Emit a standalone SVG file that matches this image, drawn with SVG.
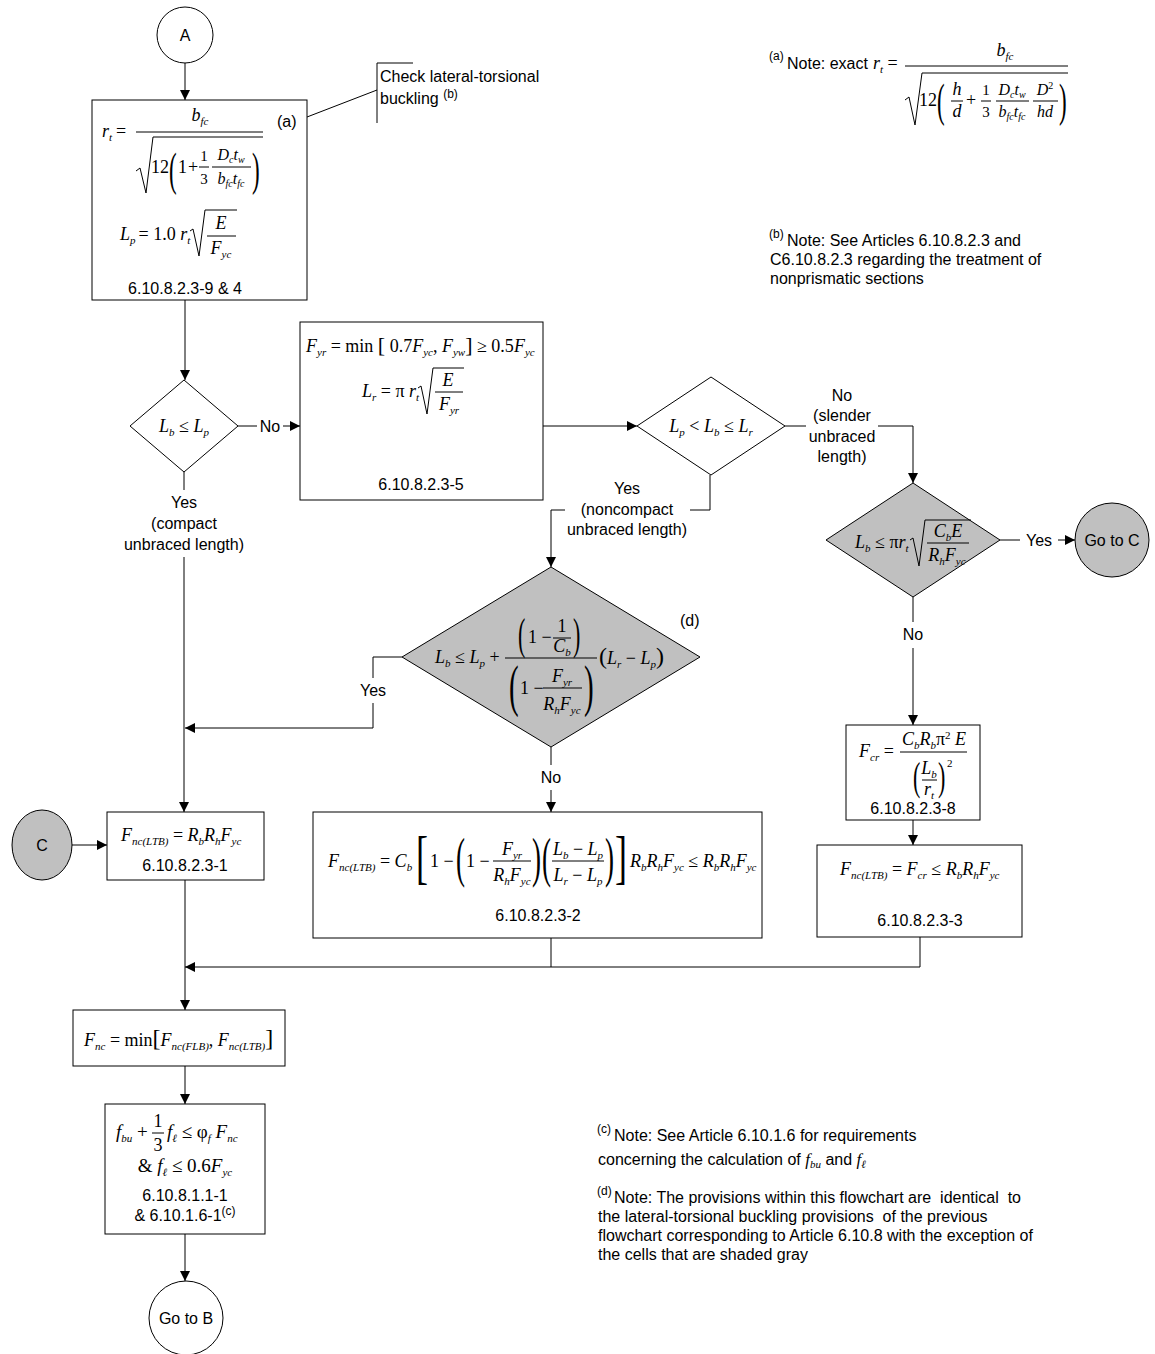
<svg xmlns="http://www.w3.org/2000/svg" width="1155" height="1354" viewBox="0 0 1155 1354">
<defs>
<marker id="ah" viewBox="0 0 10 10" refX="10" refY="5" markerWidth="10" markerHeight="10" markerUnits="userSpaceOnUse" orient="auto"><path d="M0,0 L10,5 L0,10 z" fill="#000"/></marker>
<style>
.ln{stroke:#000;stroke-width:1;fill:none}
.ar{stroke:#000;stroke-width:1;fill:none;marker-end:url(#ah)}
.bx{fill:#fff;stroke:#000;stroke-width:1}
.gr{fill:#c0c0c0;stroke:#000;stroke-width:1}
.t{font-family:"Liberation Sans",Arial,sans-serif;font-size:16px;fill:#000}
.sp{font-family:"Liberation Sans",Arial,sans-serif;font-size:12px}
.tc{text-anchor:middle}
.m{font-family:"Liberation Serif","Times New Roman",serif;font-style:italic;font-size:18px;fill:#000}
.n{font-style:normal}
.s{font-size:11px}
.ss{font-size:10px}
.f16{font-size:16px}
.f15{font-size:15px}
.big{font-size:22px}
.fb{stroke:#000;stroke-width:1;fill:none}
</style>
</defs>
<rect width="1155" height="1354" fill="#fff"/>

<g id="connectors">
<path class="ar" d="M185,63 V100"/>
<path class="ar" d="M185,300 V380"/>
<path class="ln" d="M238,426 H257"/>
<path class="ar" d="M283,426 H300"/>
<path class="ln" d="M184,472 V490"/>
<path class="ar" d="M184,557 V812"/>
<path class="ar" d="M543,426 H637"/>
<path class="ln" d="M785,426 H806"/>
<path class="ar" d="M878,426 H913 V483"/>
<path class="ln" d="M710,475 V510 H690"/>
<path class="ar" d="M565,510 H551 V567"/>
<path class="ln" d="M1000,540 H1020"/>
<path class="ar" d="M1058,540 H1075"/>
<path class="ln" d="M913,597 V622"/>
<path class="ar" d="M913,648 V725"/>
<path class="ln" d="M402,657 H373 V678"/>
<path class="ar" d="M373,703 V728 H185"/>
<path class="ln" d="M551,747 V765"/>
<path class="ar" d="M551,790 V812"/>
<path class="ar" d="M72,845 H107"/>
<path class="ar" d="M913,820 V845"/>
<path class="ar" d="M185,880 V1010"/>
<path class="ln" d="M551,938 V967"/>
<path class="ar" d="M920,937 V967 H185"/>
<path class="ar" d="M185,1066 V1104"/>
<path class="ar" d="M185,1234 V1281"/>
<path class="ln" d="M307,117 L377,90"/>
<text class="t tc" x="270" y="432">No</text>
<text class="t tc" x="184" y="508">Yes</text>
<text class="t tc" x="184" y="529">(compact</text>
<text class="t tc" x="184" y="550">unbraced length)</text>
<text class="t tc" x="842" y="401">No</text>
<text class="t tc" x="842" y="421">(slender</text>
<text class="t tc" x="842" y="442">unbraced</text>
<text class="t tc" x="842" y="462">length)</text>
<text class="t tc" x="627" y="494">Yes</text>
<text class="t tc" x="627" y="515">(noncompact</text>
<text class="t tc" x="627" y="535">unbraced length)</text>
<text class="t tc" x="1039" y="546">Yes</text>
<text class="t tc" x="913" y="640">No</text>
<text class="t tc" x="373" y="696">Yes</text>
<text class="t tc" x="551" y="783">No</text>
</g>

<g id="nodeA">
<circle cx="185" cy="35" r="28" class="bx"/>
<text class="t tc" x="185" y="41">A</text>
</g>

<g id="callout">
<path class="ln" d="M413,63 H377 V123"/>
<text class="t" x="380" y="82">Check lateral-torsional</text>
<text class="t" x="380" y="104">buckling <tspan class="sp" dy="-6">(b)</tspan></text>
</g>

<g id="box1">
<rect x="92" y="100" width="215" height="200" class="bx"/>
<text class="m" x="102" y="137">r<tspan class="s" dy="4">t</tspan><tspan class="n" dy="-4" dx="4">=</tspan></text>
<path class="fb" d="M136,132 H263"/>
<text class="m tc" x="200" y="121">b<tspan class="s" dy="4">fc</tspan></text>
<path class="fb" d="M136,171 L140,168 L146,193 L153,137 H263"/>
<text class="m n" x="151" y="173">12</text>
<text class="m n" transform="translate(169,185) scale(0.5,1)" style="font-size:46px">(</text>
<text class="m n" x="178" y="173">1</text>
<text class="m n" x="188" y="173">+</text>
<text class="m n f15 tc" x="204" y="161">1</text>
<path class="fb" d="M199,167 H209"/>
<text class="m n f15 tc" x="204" y="184">3</text>
<text class="m f16 tc" x="231" y="160">D<tspan class="ss" dy="3">c</tspan><tspan dy="-3">t</tspan><tspan class="ss" dy="3">w</tspan></text>
<path class="fb" d="M212,167 H251"/>
<text class="m f16 tc" x="231" y="184">b<tspan class="ss" dy="3">fc</tspan><tspan dy="-3">t</tspan><tspan class="ss" dy="3">fc</tspan></text>
<text class="m n" transform="translate(252,185) scale(0.5,1)" style="font-size:46px">)</text>
<text class="t" x="277" y="127">(a)</text>
<text class="m" x="120" y="240">L<tspan class="s" dy="4">p</tspan><tspan class="n" dy="-4" dx="3">= 1.0 </tspan>r<tspan class="s" dy="4">t</tspan></text>
<path class="fb" d="M190,231 L193,229 L199,256 L205,210 H237"/>
<text class="m tc" x="221" y="229">E</text>
<path class="fb" d="M207,236 H236"/>
<text class="m tc" x="221" y="254">F<tspan class="s" dy="4">yc</tspan></text>
<text class="t tc" x="185" y="294">6.10.8.2.3-9 &amp; 4</text>
</g>

<g id="dec1">
<path class="bx" d="M184,380 L238,426 L184,472 L130,426 Z"/>
<text class="m tc" x="184" y="432">L<tspan class="s" dy="4">b</tspan><tspan class="n" dy="-4"> ≤ </tspan>L<tspan class="s" dy="4">p</tspan></text>
</g>

<g id="boxFyr">
<rect x="300" y="322" width="243" height="178" class="bx"/>
<text class="m" x="306" y="352">F<tspan class="s" dy="4">yr</tspan><tspan class="n" dy="-4"> = min </tspan><tspan class="n big">[</tspan><tspan class="n"> 0.7</tspan>F<tspan class="s" dy="4">yc</tspan><tspan class="n" dy="-4">, </tspan>F<tspan class="s" dy="4">yw</tspan><tspan class="n big" dy="-4">]</tspan><tspan class="n"> ≥ 0.5</tspan>F<tspan class="s" dy="4">yc</tspan></text>
<text class="m" x="362" y="397">L<tspan class="s" dy="4">r</tspan><tspan class="n" dy="-4"> = π </tspan>r<tspan class="s" dy="4">t</tspan></text>
<path class="fb" d="M418,388 L421,386 L427,414 L433,368 H464"/>
<text class="m tc" x="448" y="386">E</text>
<path class="fb" d="M435,392 H463"/>
<text class="m tc" x="449" y="410">F<tspan class="s" dy="4">yr</tspan></text>
<text class="t tc" x="421" y="490">6.10.8.2.3-5</text>
</g>

<g id="dec2">
<path class="bx" d="M711,377 L785,426 L711,475 L637,426 Z"/>
<text class="m tc" x="711" y="432">L<tspan class="s" dy="4">p</tspan><tspan class="n" dy="-4"> &lt; </tspan>L<tspan class="s" dy="4">b</tspan><tspan class="n" dy="-4"> ≤ </tspan>L<tspan class="s" dy="4">r</tspan></text>
</g>

<g id="dec3">
<path class="gr" d="M913,483 L1000,540 L913,597 L826,540 Z"/>
<text class="m" x="855" y="548">L<tspan class="s" dy="4">b</tspan><tspan class="n" dy="-4"> ≤ π</tspan>r<tspan class="s" dy="4">t</tspan></text>
<path class="fb" d="M910,540 L913,538 L919,566 L925,520 H971"/>
<text class="m tc" x="948" y="537">C<tspan class="s" dy="4">b</tspan><tspan dy="-4">E</tspan></text>
<path class="fb" d="M927,543 H969"/>
<text class="m tc" x="947" y="561">R<tspan class="s" dy="4">h</tspan><tspan dy="-4">F</tspan><tspan class="s" dy="4">yc</tspan></text>
</g>

<g id="goC">
<circle cx="1112" cy="540" r="37" class="gr"/>
<text class="t tc" x="1112" y="546">Go to C</text>
</g>

<g id="dec4">
<path class="gr" d="M551,567 L700,657 L551,747 L402,657 Z"/>
<text class="m" x="435" y="663">L<tspan class="s" dy="4">b</tspan><tspan class="n" dy="-4"> ≤ </tspan>L<tspan class="s" dy="4">p</tspan><tspan class="n" dy="-4"> +</tspan></text>
<path class="fb" d="M505,658 H597"/>
<text class="m n" transform="translate(518,649) scale(0.5,1)" style="font-size:44px">(</text>
<text class="m n" x="528" y="643">1 −</text>
<text class="m n tc" x="562" y="632">1</text>
<path class="fb" d="M553,638 H571"/>
<text class="m tc" x="562" y="652">C<tspan class="s" dy="4">b</tspan></text>
<text class="m n" transform="translate(573,649) scale(0.5,1)" style="font-size:44px">)</text>
<text class="m n" transform="translate(509,705) scale(0.5,1)" style="font-size:58px">(</text>
<text class="m n" x="520" y="694">1 −</text>
<text class="m tc" x="562" y="682">F<tspan class="s" dy="4">yr</tspan></text>
<path class="fb" d="M543,688 H582"/>
<text class="m tc" x="562" y="710">R<tspan class="s" dy="4">h</tspan><tspan dy="-4">F</tspan><tspan class="s" dy="4">yc</tspan></text>
<text class="m n" transform="translate(584,705) scale(0.5,1)" style="font-size:58px">)</text>
<text class="m" x="599" y="664"><tspan class="n" style="font-size:24px">(</tspan>L<tspan class="s" dy="4">r</tspan><tspan class="n" dy="-4"> − </tspan>L<tspan class="s" dy="4">p</tspan><tspan class="n" dy="-4" style="font-size:24px">)</tspan></text>
<text class="t" x="680" y="626">(d)</text>
</g>

<g id="nodeC">
<ellipse cx="42" cy="845" rx="30" ry="35" class="gr"/>
<text class="t tc" x="42" y="851">C</text>
</g>

<g id="boxLTB1">
<rect x="107" y="812" width="157" height="68" class="bx"/>
<text class="m" x="121" y="841">F<tspan class="s" dy="4">nc(LTB)</tspan><tspan class="n" dy="-4"> = </tspan>R<tspan class="s" dy="4">b</tspan><tspan dy="-4">R</tspan><tspan class="s" dy="4">h</tspan><tspan dy="-4">F</tspan><tspan class="s" dy="4">yc</tspan></text>
<text class="t tc" x="185" y="871">6.10.8.2.3-1</text>
</g>

<g id="boxLTB2">
<rect x="313" y="812" width="449" height="126" class="bx"/>
<text class="m" x="328" y="867">F<tspan class="s" dy="4">nc(LTB)</tspan><tspan class="n" dy="-4"> = </tspan>C<tspan class="s" dy="4">b</tspan></text>
<text class="m n" transform="translate(416,877) scale(0.6,1)" style="font-size:60px">[</text>
<text class="m n" x="430" y="867">1 −</text>
<text class="m n" transform="translate(456,876) scale(0.5,1)" style="font-size:54px">(</text>
<text class="m n" x="466" y="867">1 −</text>
<text class="m tc" x="512" y="855">F<tspan class="s" dy="4">yr</tspan></text>
<path class="fb" d="M493,861 H531"/>
<text class="m tc" x="512" y="881">R<tspan class="s" dy="4">h</tspan><tspan dy="-4">F</tspan><tspan class="s" dy="4">yc</tspan></text>
<text class="m n" transform="translate(532,876) scale(0.5,1)" style="font-size:54px">)</text>
<text class="m n" transform="translate(542,876) scale(0.5,1)" style="font-size:54px">(</text>
<text class="m tc" x="578" y="855">L<tspan class="s" dy="4">b</tspan><tspan class="n" dy="-4"> − </tspan>L<tspan class="s" dy="4">p</tspan></text>
<path class="fb" d="M552,861 H604"/>
<text class="m tc" x="578" y="881">L<tspan class="s" dy="4">r</tspan><tspan class="n" dy="-4"> − </tspan>L<tspan class="s" dy="4">p</tspan></text>
<text class="m n" transform="translate(605,876) scale(0.5,1)" style="font-size:54px">)</text>
<text class="m n" transform="translate(615,877) scale(0.6,1)" style="font-size:60px">]</text>
<text class="m" x="630" y="867">R<tspan class="s" dy="4">b</tspan><tspan dy="-4">R</tspan><tspan class="s" dy="4">h</tspan><tspan dy="-4">F</tspan><tspan class="s" dy="4">yc</tspan><tspan class="n" dy="-4"> ≤ </tspan>R<tspan class="s" dy="4">b</tspan><tspan dy="-4">R</tspan><tspan class="s" dy="4">h</tspan><tspan dy="-4">F</tspan><tspan class="s" dy="4">yc</tspan></text>
<text class="t tc" x="538" y="921">6.10.8.2.3-2</text>
</g>

<g id="boxFcr">
<rect x="846" y="725" width="134" height="95" class="bx"/>
<text class="m" x="859" y="757">F<tspan class="s" dy="4">cr</tspan><tspan class="n" dy="-4"> =</tspan></text>
<path class="fb" d="M900,752 H967"/>
<text class="m tc" x="934" y="745">C<tspan class="s" dy="4">b</tspan><tspan dy="-4">R</tspan><tspan class="s" dy="4">b</tspan><tspan class="n" dy="-4">π</tspan><tspan class="n s" dy="-6">2</tspan><tspan class="n" dy="6"> </tspan>E</text>
<text class="m n" transform="translate(913,790) scale(0.55,1)" style="font-size:40px">(</text>
<text class="m tc" x="929" y="774">L<tspan class="s" dy="4">b</tspan></text>
<path class="fb" d="M922,780 H937"/>
<text class="m tc" x="929" y="795">r<tspan class="s" dy="4">t</tspan></text>
<text class="m n" transform="translate(938,790) scale(0.55,1)" style="font-size:40px">)</text>
<text class="m n s" x="947" y="767">2</text>
<text class="t tc" x="913" y="814">6.10.8.2.3-8</text>
</g>

<g id="boxLTB3">
<rect x="817" y="845" width="205" height="92" class="bx"/>
<text class="m" x="840" y="875">F<tspan class="s" dy="4">nc(LTB)</tspan><tspan class="n" dy="-4"> = </tspan>F<tspan class="s" dy="4">cr</tspan><tspan class="n" dy="-4"> ≤ </tspan>R<tspan class="s" dy="4">b</tspan><tspan dy="-4">R</tspan><tspan class="s" dy="4">h</tspan><tspan dy="-4">F</tspan><tspan class="s" dy="4">yc</tspan></text>
<text class="t tc" x="920" y="926">6.10.8.2.3-3</text>
</g>

<g id="boxFnc">
<rect x="73" y="1010" width="212" height="56" class="bx"/>
<text class="m" x="84" y="1046">F<tspan class="s" dy="4">nc</tspan><tspan class="n" dy="-4"> = min</tspan><tspan class="n" style="font-size:24px">[</tspan>F<tspan class="s" dy="4">nc(FLB)</tspan><tspan class="n" dy="-4">, </tspan>F<tspan class="s" dy="4">nc(LTB)</tspan><tspan class="n" dy="-4" style="font-size:24px">]</tspan></text>
</g>

<g id="boxCheck">
<rect x="105" y="1104" width="160" height="130" class="bx"/>
<text class="m" x="116" y="1138" style="font-size:19px">f<tspan class="s" dy="4">bu</tspan><tspan class="n" dy="-4"> +</tspan></text>
<text class="m n tc" x="158" y="1127">1</text>
<path class="fb" d="M152,1133 H164"/>
<text class="m n tc" x="158" y="1151">3</text>
<text class="m" x="167" y="1138" style="font-size:19px">f<tspan class="s" dy="4">ℓ</tspan><tspan class="n" dy="-4"> ≤ φ</tspan><tspan class="s" dy="4">f</tspan><tspan dy="-4"> F</tspan><tspan class="s" dy="4">nc</tspan></text>
<text class="m tc" x="185" y="1172" style="font-size:19px"><tspan class="n">&amp; </tspan>f<tspan class="s" dy="4">ℓ</tspan><tspan class="n" dy="-4"> ≤ 0.6</tspan>F<tspan class="s" dy="4">yc</tspan></text>
<text class="t tc" x="185" y="1201">6.10.8.1.1-1</text>
<text class="t tc" x="185" y="1221">&amp; 6.10.1.6-1<tspan class="sp" dy="-6">(c)</tspan></text>
</g>

<g id="goB">
<circle cx="186" cy="1318" r="37" class="bx"/>
<text class="t tc" x="186" y="1324">Go to B</text>
</g>

<g id="noteA">
<text class="sp" x="769" y="60">(a)</text>
<text class="t" x="787" y="69">Note: exact</text>
<text class="m" x="873" y="69">r<tspan class="s" dy="4">t</tspan><tspan class="n" dy="-4"> =</tspan></text>
<text class="m tc" x="1005" y="56">b<tspan class="s" dy="4">fc</tspan></text>
<path class="fb" d="M905,66 H1068"/>
<path class="fb" d="M905,100 L909,97 L915,125 L922,73 H1068"/>
<text class="m n" x="919" y="106">12</text>
<text class="m n" transform="translate(937,116) scale(0.5,1)" style="font-size:46px">(</text>
<text class="m tc" x="957" y="95">h</text>
<path class="fb" d="M951,101 H963"/>
<text class="m tc" x="957" y="117">d</text>
<text class="m n" x="966" y="106">+</text>
<text class="m n f15 tc" x="986" y="95">1</text>
<path class="fb" d="M981,101 H991"/>
<text class="m n f15 tc" x="986" y="117">3</text>
<text class="m f16 tc" x="1012" y="95">D<tspan class="ss" dy="3">c</tspan><tspan dy="-3">t</tspan><tspan class="ss" dy="3">w</tspan></text>
<path class="fb" d="M996,101 H1029"/>
<text class="m f16 tc" x="1012" y="117">b<tspan class="ss" dy="3">fc</tspan><tspan dy="-3">t</tspan><tspan class="ss" dy="3">fc</tspan></text>
<text class="m f16 tc" x="1045" y="95">D<tspan class="n ss" dy="-6">2</tspan></text>
<path class="fb" d="M1033,101 H1058"/>
<text class="m f16 tc" x="1045" y="117">hd</text>
<text class="m n" transform="translate(1059,116) scale(0.5,1)" style="font-size:46px">)</text>
</g>

<g id="noteB">
<text class="sp" x="769" y="238">(b)</text>
<text class="t" x="787" y="246">Note: See Articles 6.10.8.2.3 and</text>
<text class="t" x="770" y="265">C6.10.8.2.3 regarding the treatment of</text>
<text class="t" x="770" y="284">nonprismatic sections</text>
</g>

<g id="noteC">
<text class="sp" x="597" y="1133">(c)</text>
<text class="t" x="614" y="1141">Note: See Article 6.10.1.6 for requirements</text>
<text class="t" x="598" y="1165">concerning the calculation of <tspan class="m" style="font-size:17px">f<tspan dy="3" style="font-size:11px">bu</tspan></tspan><tspan dy="-3"> and </tspan><tspan class="m" style="font-size:17px">f<tspan dy="3" style="font-size:11px">ℓ</tspan></tspan></text>
</g>

<g id="noteD">
<text class="sp" x="597" y="1195">(d)</text>
<text class="t" x="614" y="1203" xml:space="preserve">Note: The provisions within this flowchart are  identical  to</text>
<text class="t" x="598" y="1222" xml:space="preserve">the lateral-torsional buckling provisions  of the previous</text>
<text class="t" x="598" y="1241">flowchart corresponding to Article 6.10.8 with the exception of</text>
<text class="t" x="598" y="1260">the cells that are shaded gray</text>
</g>
</svg>
